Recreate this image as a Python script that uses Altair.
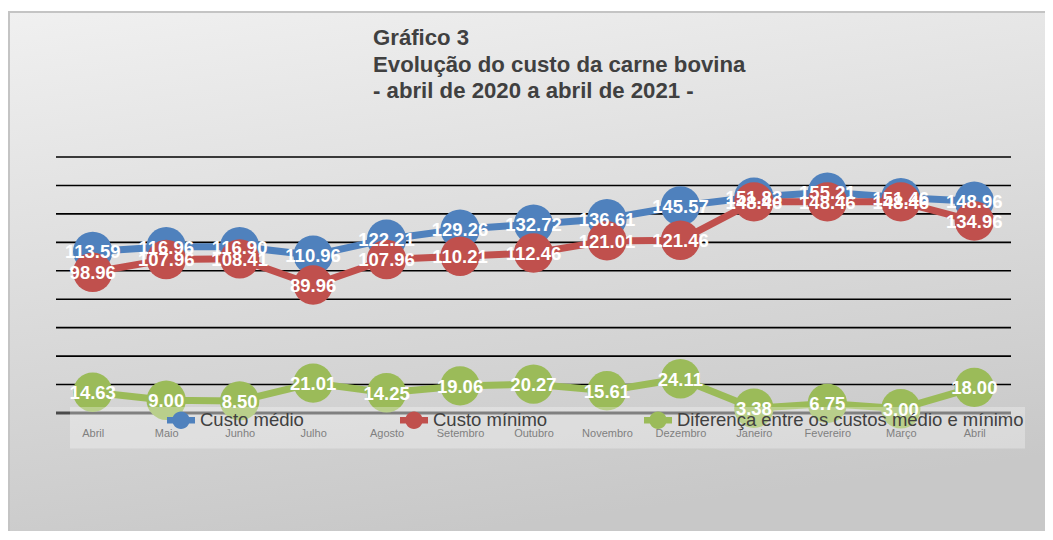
import json
import altair as alt
import pandas as pd

meses = ["Abril", "Maio", "Junho", "Julho", "Agosto", "Setembro", "Outubro",
         "Novembro", "Dezembro", "Janeiro", "Fevereiro", "Março", "Abril"]
series = ["Custo médio", "Custo mínimo", "Diferença entre os custos médio e mínimo"]
cores = ["#4F81BD", "#C0504D", "#9BBB59"]
custo_medio = [113.59, 116.96, 116.90, 110.96, 122.21, 129.26, 132.72, 136.61,
               145.57, 151.83, 155.21, 151.46, 148.96]
custo_minimo = [98.96, 107.96, 108.41, 89.96, 107.96, 110.21, 112.46, 121.01,
                121.46, 148.46, 148.46, 148.46, 134.96]
diferenca = [14.63, 9.00, 8.50, 21.01, 14.25, 19.06, 20.27, 15.61, 24.11,
             3.38, 6.75, 3.00, 18.00]
grade = [20, 40, 60, 80, 100, 120, 140, 160, 180]
titulo = ["Gráfico 3", "Evolução do custo da carne bovina",
          "- abril de 2020 a abril de 2021 -"]

rows = []
for s, vals in zip(series, [custo_medio, custo_minimo, diferenca]):
    for i, v in enumerate(vals):
        rows.append({"idx": i, "serie": s, "valor": v})
df = pd.DataFrame(rows)

FONT = "Liberation Sans"
W, H = 955, 256

x_enc = alt.X(
    "idx:O",
    title=None,
    scale=alt.Scale(paddingOuter=0.5),
    axis=alt.Axis(
        labelExpr=json.dumps(meses) + "[datum.value]",
        labelAngle=0, labelColor="#808080", labelFontSize=11, labelFont=FONT,
        labelPadding=14, ticks=False, domain=False, zindex=1,
    ),
)
y_scale = alt.Scale(domain=[0, 180], nice=False, zero=True)
y_enc = alt.Y("valor:Q", title=None, scale=y_scale, axis=None)

legend = alt.Legend(
    title=None, orient="none", legendX=111, legendY=249,
    direction="horizontal", zindex=2,
    symbolType="M-1,-0.24H1V0.24H-1Z M0.62,0A0.62,0.62,0,1,1,-0.62,0A0.62,0.62,0,1,1,0.62,0Z",
    symbolSize=784, symbolStrokeWidth=0, symbolOpacity=1,
    labelFontSize=18.5, labelFont=FONT, labelColor="#404040", labelLimit=600,
    labelOffset=5, columnPadding=96, padding=0,
)
color_enc = alt.Color("serie:N", scale=alt.Scale(domain=series, range=cores),
                      legend=legend)

base = alt.Chart(df)

bg = alt.Chart(pd.DataFrame({"a": [0]})).mark_rect(
    color=alt.LinearGradient(
        gradient="linear", x1=0, y1=0, x2=0.25, y2=1,
        stops=[alt.GradientStop(color="#f0f0f0", offset=0),
               alt.GradientStop(color="#c8c8c8", offset=1)],
    ),
    stroke="#c4c4c4", strokeWidth=2,
).encode(x=alt.value(-47), x2=alt.value(1000), y=alt.value(-145), y2=alt.value(400))

grid = alt.Chart(pd.DataFrame({"v": grade})).mark_rule(
    color="black", strokeWidth=1.6
).encode(y=alt.Y("v:Q", scale=y_scale, axis=None))

zero = alt.Chart(pd.DataFrame({"v": [0]})).mark_rule(
    color="#4a4a4a", strokeWidth=3
).encode(y=alt.Y("v:Q", scale=y_scale, axis=None))

title_txt = alt.Chart(pd.DataFrame({"a": [0]})).mark_text(
    text=titulo, font=FONT, fontSize=22.2, fontWeight="bold", color="#404040",
    align="left", baseline="alphabetic", lineHeight=26.5,
).encode(x=alt.value(317), y=alt.value(-112))

layers = [bg, grid, zero, title_txt]
for s in series:
    sub = base.transform_filter(alt.datum.serie == s)
    layers.append(
        sub.mark_line(strokeWidth=7).encode(x=x_enc, y=y_enc, color=color_enc)
    )
    layers.append(
        sub.mark_circle(size=1550, opacity=1).encode(x=x_enc, y=y_enc, color=color_enc)
    )

box = alt.Chart(pd.DataFrame({"a": [0]})).mark_rect(
    color="white", opacity=0.3
).encode(x=alt.value(14), x2=alt.value(969), y=alt.value(250), y2=alt.value(291.5))
layers.append(box)

labels = base.mark_text(
    color="white", fontWeight="bold", fontSize=18.5, font=FONT, baseline="middle", dy=1
).encode(x=x_enc, y=y_enc, text=alt.Text("valor:Q", format=".2f"))
layers.append(labels)

chart = alt.layer(*layers).properties(
    width=W, height=H,
    autosize=alt.AutoSizeParams(type="none"),
    padding={"left": 48, "top": 149, "right": 34, "bottom": 118},
    background="white",
).configure_view(stroke=None)

chart.save("out.html", embed_options={"renderer": "svg", "actions": False})
